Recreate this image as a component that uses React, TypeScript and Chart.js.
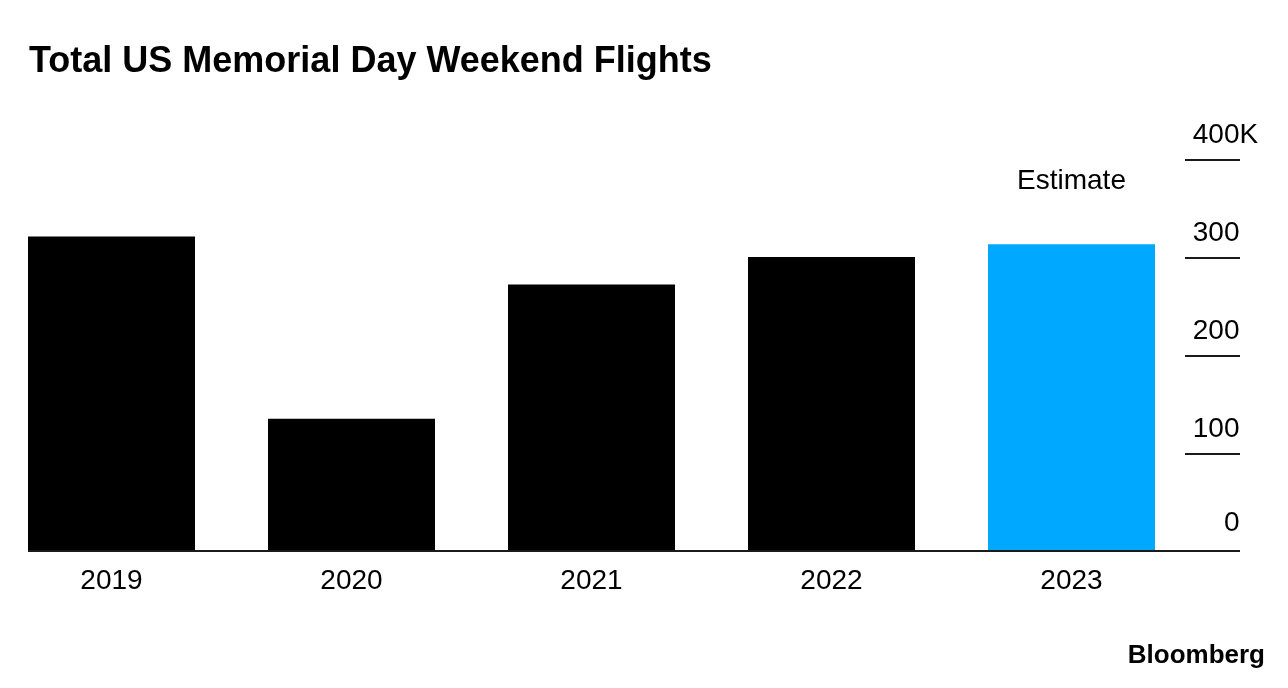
import React, { useEffect, useRef } from "react";
import { Chart, registerables } from "chart.js";

Chart.register(...registerables);

// ---- Data ----
const categories = ["2019", "2020", "2021", "2022", "2023"];
const flightsK = [322, 136, 273, 301, 314]; // total flights, thousands
const isEstimate = [false, false, false, false, true];
const yTickValues = [0, 100, 200, 300, 400];
const yTickLabels = ["0", "100", "200", "300", "400"];
const yUnit = "K";
const estimateLabel = "Estimate";
const titleText = "Total US Memorial Day Weekend Flights";
const sourceText = "Bloomberg";

const OFFSET = 40; // canvas shifted left by this many px
const CANVAS_W = 1328;
const CANVAS_H = 688;
const FONT = '"Liberation Sans", Arial, Helvetica, sans-serif';

const overlayPlugin = {
  id: "overlay",
  afterDatasetsDraw(chart: any) {
    const ctx = chart.ctx;
    const xs = chart.scales.x;
    const ys = chart.scales.y;
    ctx.save();
    // baseline
    const y0 = ys.getPixelForValue(0);
    ctx.fillStyle = "#1a1a1a";
    ctx.fillRect(28 + OFFSET, Math.round(y0) - 2, 1240 - 28, 2);

    // right-side tick lines + labels
    ctx.font = `28px ${FONT}`;
    ctx.textBaseline = "alphabetic";
    yTickValues.forEach((v, i) => {
      const py = ys.getPixelForValue(v);
      if (v !== 0) {
        ctx.fillStyle = "#1a1a1a";
        ctx.fillRect(1185 + OFFSET, Math.round(py) - 1, 55, 2);
      }
      ctx.fillStyle = "#000";
      ctx.textAlign = "right";
      const by = v === 0 ? py - 21 : py - 17;
      ctx.fillText(yTickLabels[i], 1239.5 + OFFSET, by);
      if (i === yTickValues.length - 1) {
        ctx.textAlign = "left";
        ctx.fillText(yUnit, 1239.5 + OFFSET, by);
      }
    });

    // x labels
    ctx.textAlign = "center";
    ctx.fillStyle = "#000";
    categories.forEach((c, i) => {
      const px = xs.getPixelForValue(i);
      ctx.fillText(c, px, y0 + 37);
    });

    // estimate annotation
    isEstimate.forEach((e, i) => {
      if (!e) return;
      const px = xs.getPixelForValue(i);
      ctx.fillText(estimateLabel, px, ys.getPixelForValue(400) + 29);
    });
    ctx.restore();
  },
};

export default function App() {
  const canvasRef = useRef<HTMLCanvasElement | null>(null);

  useEffect(() => {
    if (!canvasRef.current) return;
    const chart = new Chart(canvasRef.current, {
      type: "bar",
      data: {
        labels: categories,
        datasets: [
          {
            data: flightsK,
            backgroundColor: isEstimate.map((e) => (e ? "#00a9ff" : "#000000")),
            borderWidth: 0,
            barPercentage: 167 / 240,
            categoryPercentage: 1,
          },
        ],
      },
      options: {
        responsive: false,
        animation: false,
        devicePixelRatio: 1,
        layout: {
          padding: { left: 31.5, right: 96.5, top: 160, bottom: 136 },
        },
        plugins: {
          legend: { display: false },
          title: { display: false },
          tooltip: { enabled: false },
        },
        scales: {
          x: { display: false, offset: true },
          y: { display: false, min: 0, max: 400 },
        },
      },
      plugins: [overlayPlugin],
    });
    return () => chart.destroy();
  }, []);

  return (
    <div>
      <div
        style={{
          position: "absolute",
          left: -OFFSET,
          top: 0,
          width: CANVAS_W,
          height: CANVAS_H,
        }}
      >
        <canvas
          ref={canvasRef}
          width={CANVAS_W}
          height={CANVAS_H}
          style={{ width: CANVAS_W, height: CANVAS_H, display: "block" }}
        />
      </div>
      <div
        style={{
          position: "absolute",
          left: 29,
          top: 42,
          fontFamily: FONT,
          fontWeight: 700,
          fontSize: 36,
          lineHeight: "36px",
          color: "#000",
          whiteSpace: "nowrap",
        }}
      >
        {titleText}
      </div>
      <div
        style={{
          position: "absolute",
          left: 1000,
          width: 265,
          top: 641,
          textAlign: "right",
          fontFamily: FONT,
          fontWeight: 700,
          fontSize: 26,
          lineHeight: "26px",
          color: "#000",
          whiteSpace: "nowrap",
        }}
      >
        {sourceText}
      </div>
    </div>
  );
}
